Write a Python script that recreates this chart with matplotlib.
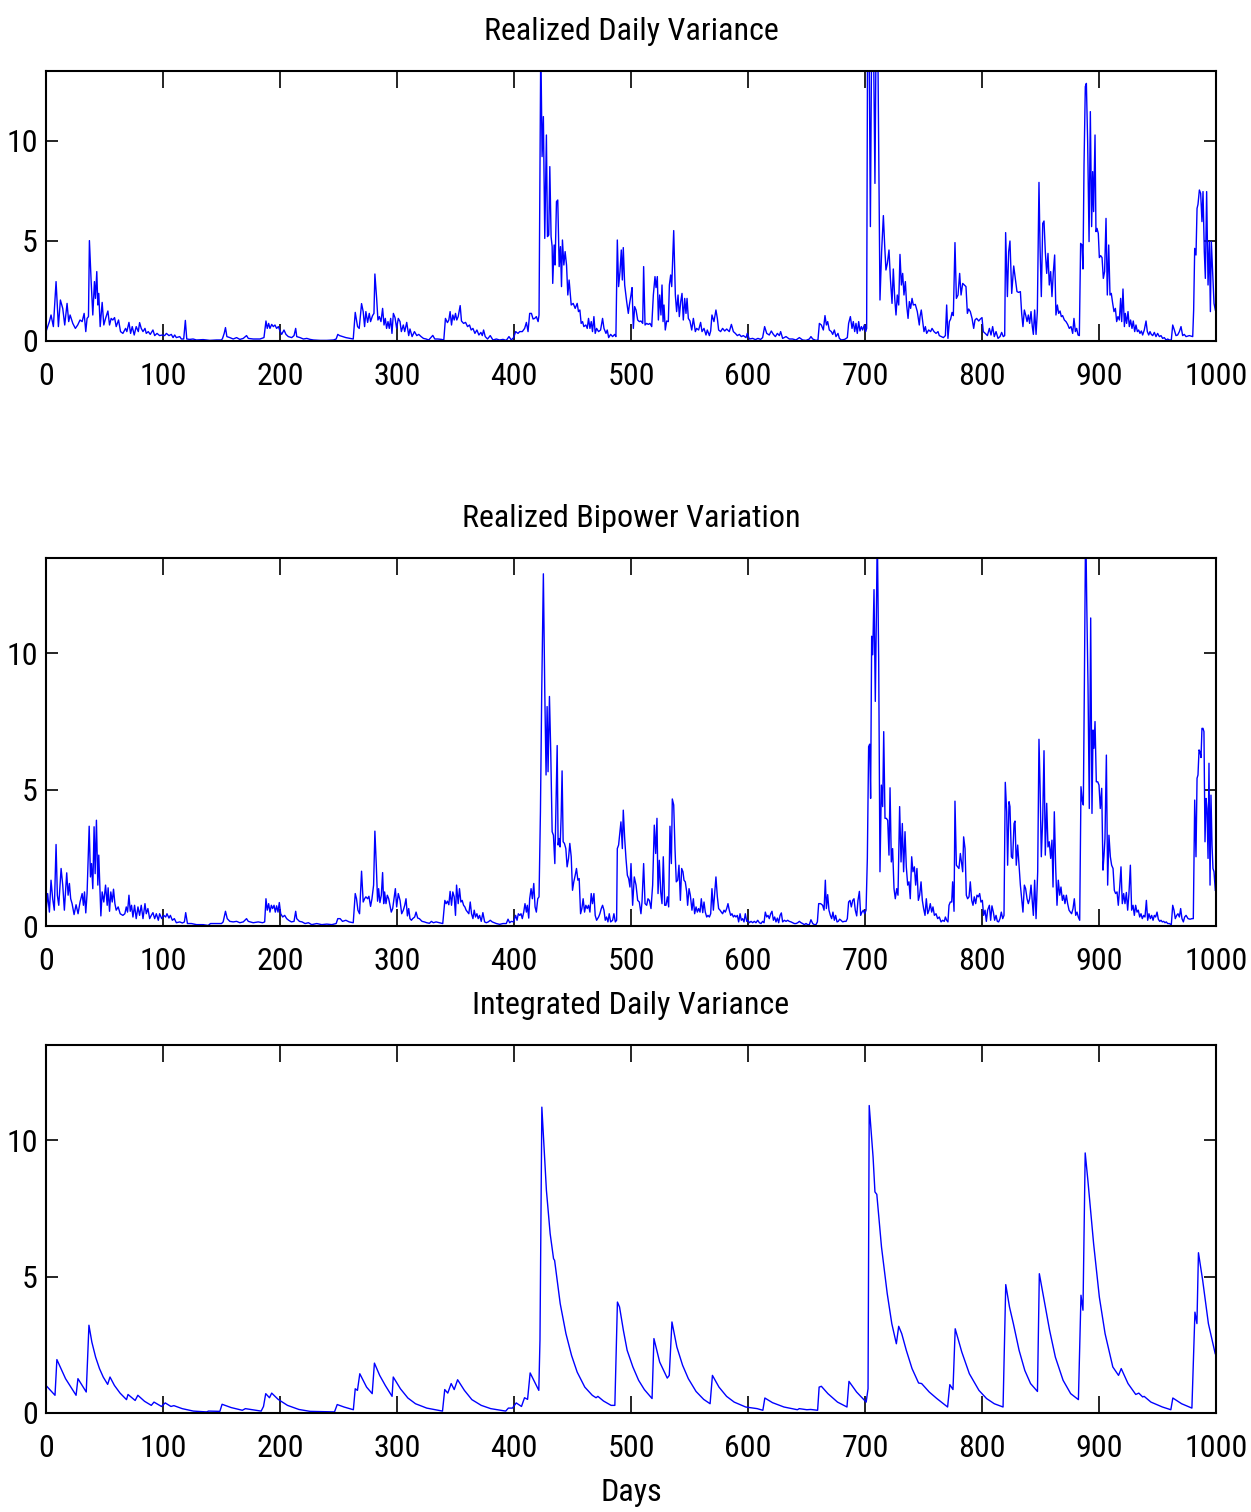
import matplotlib
matplotlib.use("Agg")
import matplotlib.pyplot as plt
from matplotlib import font_manager as fm

# ---------------- data ----------------
titles = ["Realized Daily Variance", "Realized Bipower Variation", "Integrated Daily Variance"]
xlabel_text = "Days"
xticks = [0, 100, 200, 300, 400, 500, 600, 700, 800, 900, 1000]
yticks = [0, 5, 10]

rv_days = [0, 2.9, 4.3, 6.3, 8.6, 10.6, 12.3, 14.3, 16, 18, 19.4, 20.6, 22.9, 25.1, 27.1, 29.1, 30.9, 32.6, 34, 35.1,
           36.3, 37.1, 38.6, 40, 41.4, 42.3, 43.4, 44.3, 45.1, 46.3, 48, 49.4, 50.9, 52.9, 54.3, 55.7, 57.1, 58.6, 60, 62,
           63.7, 65.7, 68, 69.1, 70.9, 72.3, 73.7, 75.4, 77.1, 78.9, 80, 81.4, 82.9, 84.6, 85.7, 87.4, 89.1, 91.4, 92.9, 94.9,
           97.1, 99.4, 101.4, 102.9, 105.1, 107.1, 108.6, 110, 111.4, 114.3, 115.7, 117.7, 119.1, 120.3, 122.9, 125.7, 128.6,
           134.3, 140, 145.7, 150, 150.9, 152.3, 153.4, 154.6, 157.1, 160, 162.9, 165.7, 168.6, 171.4, 172.9, 177.1, 182.9,
           186.3, 188, 189.1, 190.3, 191.4, 192.9, 194.3, 195.7, 197.1, 198.6, 200, 201.4, 203.4, 205.1, 207.1, 210, 212,
           213.4, 214.3, 217.1, 220, 222.9, 225.7, 228.6, 234.3, 240, 245.7, 248, 249.4, 250.9,
           256.3, 262.6, 264.3, 266.3, 267.7, 269.7, 271.1, 272.3, 273.4, 274.9, 276.3, 277.4, 279.1, 280.3, 281.1, 282.6,
           283.7, 284.9, 286.3, 287.7, 288.9, 290, 291.1, 292.3, 293.4, 294.6, 295.7, 296.9, 298.3, 299.7, 301.1, 302.6,
           303.7, 305.4, 306.6, 308.3, 310, 311.1, 312.9, 314.9, 316.9, 318.6, 320.6, 322.6, 324.9, 327.1, 328.9, 330.6,
           332.3, 334.9, 338, 340, 341.4, 343.1, 344.3, 345.4, 346.6, 347.7, 348.9, 350, 351.1, 352.3, 354, 355.1, 356.9,
           358.6, 360.3, 362, 363.4, 364.9, 366.6, 368.3, 370, 371.7, 372.9, 374, 375.4, 377.4, 379.7, 382, 384.9, 387.7,
           390.6, 393.4, 395.7, 397.7, 399.7, 401.4, 403.4, 404.9, 407.1, 409.1, 410.6, 412, 413.4, 414.9, 416.3, 417.7,
           419.1, 420.6, 421.4, 422.9, 424, 425.1, 426.3, 427.7, 428.6, 429.7, 430.6, 431.7, 432.6, 433.1, 434.3, 435.1,
           436.3, 437.4, 438.6, 439.7, 440.6, 441.4, 442.6, 443.7, 444.9, 446, 447.1, 448.9, 450.6, 452.3, 454, 455.1,
           456.3, 457.4, 458.6, 459.7, 461.4, 462.6, 463.7, 464.9, 466, 467.1, 468.3, 469.4, 470.6, 472.3, 474, 475.7,
           476.9, 478.6, 479.7, 480.9, 482.6, 484.3, 486, 487.1, 488.3, 489.4, 490.6, 491.7, 492.6, 493.4, 494.6, 496.3,
           497.7, 498.6, 500, 500.9, 502, 503.1, 504.3, 505.7, 507.1, 508.5, 510, 510.8, 512, 513.4, 514.8, 516.2, 517.7,
           519.1, 520.5, 521.4, 522.5, 523.4, 524.5, 525.6, 526.5, 527.4, 528.2, 529.3, 530.5, 531.9, 532.8, 533.9, 534.8,
           536.5, 537.9, 539, 540.2, 541.3, 542.5, 543.6, 544.7, 545.9, 547, 547.9, 549, 550.4, 551.9, 553.3, 555, 556.1,
           557.8, 559.5, 560.7, 562.4, 564.1, 565.2, 567, 568.1, 569.2, 570.9, 572.6, 573.8, 574.9, 576.6, 578.3, 580.1,
           581.8, 584, 585.8, 587.5, 589.2, 590.9, 592.6, 594.3, 596, 598.3, 599.4, 601.1, 604, 606.3, 608.5, 610.8, 612.5,
           614.2, 616, 618.2, 619.9, 621.7, 623.4, 625.1, 626.8, 627.9, 629.6, 632.5, 635.3, 638.2, 641, 643.9, 646.7,
           649.6, 652.4, 653.8, 655.3, 658.1, 659.8, 661, 662.7, 664.4, 665.8, 667, 668.1, 669.5, 671.2, 672.4, 673.8,
           675.2, 676.9, 678.1, 679.8, 682.6, 684.9, 686, 687.5, 688.9, 690, 691.2, 692.3, 693.4, 694.6, 695.7, 696.9, 698,
           699.4, 700.6, 701.4, 702.3, 703.4, 704.6, 706, 707.1, 708.5, 709.7, 710.8, 712.8, 714.2, 715.7, 716.8, 717.9,
           719.1, 720.5, 721.7, 723.1, 724.2, 725.4, 726.5, 727.6, 728.8, 729.9, 731.1, 732.2, 733.3, 734.5, 735.6, 736.8,
           737.9, 739, 740.2, 741.3, 743, 744.7, 746.4, 747, 748.1, 749.3, 750.4, 751.6, 752.7, 754.4, 756.1, 757.3, 759,
           760.7, 762.4, 763.5, 765.2, 767, 768.7, 769.8, 770.9, 772.1, 773.2, 774.4, 775.5, 776.9, 778.1, 779.5, 780.9,
           782.1, 783.5, 784.9, 786.3, 787.5, 788.6, 790, 791.5, 792.9, 794, 795.4, 797.2, 798.6, 800, 801.1, 802.8, 804.6,
           806.3, 807.7, 809.1, 810.5, 812, 813.7, 815.4, 816.8, 818.2, 819.4, 820.2, 821.7, 822.8, 823.9, 825.4, 827.1,
           828.5, 829.9, 831.3, 832.8, 833.9, 835, 836.2, 837.3, 838.5, 839.6, 840.7, 841.9, 843, 843.9, 845, 846.2, 847.3,
           848.7, 849.6, 850.7, 851.9, 853, 854.1, 855.3, 856.4, 857.5, 858.7, 859.8, 861, 862.1, 863.2, 864.4, 865.5,
           866.7, 867.8, 868.9, 870.4, 871.8, 873.2, 874.6, 876.1, 877.5, 878.6, 879.8, 880.9, 882.1, 883.2, 884.3, 885.5,
           886.3, 887.2, 888.3, 889.2, 890.3, 891.5, 892.6, 893.7, 894.6, 895.4, 896.6, 897.4, 898.3, 899.4, 900.3, 901.4,
           902.6, 903.7, 904.8, 906, 907.1, 908.3, 909.4, 910.5, 911.7, 912.8, 914, 915.1, 916.2, 917.4, 918.5, 919.4,
           920.5, 921.7, 922.5, 923.6, 924.8, 925.9, 927, 928.2, 929.3, 930.5, 931.6, 932.8, 933.9, 935, 936.2, 937.3,
           938.7, 940.2, 941.3, 942.5, 943.6, 944.7, 945.9, 947.3, 948.7, 950.1, 951.6, 953, 954.4, 955.8, 957.3, 958.7,
           960.1, 961.8, 963, 964.4, 965.8, 967.2, 968.7, 970.1, 971.5, 972.9, 974.4, 977.2, 980.1, 980.9, 981.8, 982.9,
           983.8, 984.6, 985.8, 986.9, 988, 988.9, 990, 990.9, 992, 993.2, 994.3, 995.2, 996, 997.2, 998.3, 999.4]
rv_vals = [0.47, 0.97, 1.3, 0.72, 2.97, 0.72, 2.05, 1.63, 0.8, 1.88, 0.97, 1.3, 0.88, 0.63, 0.8, 1.05, 0.97, 1.38, 0.47, 1.13,
           1.22, 5.02, 2.97, 1.3, 2.97, 2.13, 3.47, 1.8, 2.38, 0.72, 1.93, 0.8, 1.13, 1.5, 0.8, 1.13, 1.05, 1.17, 0.72, 1.05,
           0.47, 0.38, 0.63, 0.47, 0.93, 0.38, 0.72, 0.3, 0.72, 0.47, 0.92, 0.63, 0.47, 0.63, 0.38, 0.47, 0.33, 0.55, 0.27, 0.38,
           0.27, 0.3, 0.27, 0.38, 0.27, 0.33, 0.17, 0.3, 0.17, 0.22, 0.1, 0.1, 1.03, 0.1, 0.08, 0.1, 0.05,
           0.07, 0.03, 0.05, 0.05, 0.13, 0.38, 0.67, 0.22, 0.17, 0.1, 0.17, 0.08, 0.13, 0.27, 0.13, 0.1, 0.1,
           0.17, 1.0, 0.63, 0.88, 0.63, 0.83, 0.72, 0.8, 0.63, 0.72, 0.5, 0.33, 0.55, 0.33, 0.22, 0.17, 0.27,
           0.63, 0.22, 0.17, 0.1, 0.13, 0.08, 0.05, 0.03, 0.03, 0.05, 0.1, 0.33, 0.27,
           0.17, 0.1, 1.43, 0.72, 0.63, 1.87, 1.47, 0.72, 1.47, 0.93, 1.38, 0.97, 1.27, 1.38, 3.35, 2.13,
           1.05, 1.22, 0.97, 1.63, 0.8, 1.13, 0.63, 0.97, 0.63, 1.13, 0.38, 1.38, 1.17, 0.63, 1.13, 0.97,
           0.47, 0.8, 0.47, 0.93, 0.27, 0.6, 0.22, 0.47, 0.27, 0.33, 0.22, 0.13, 0.1, 0.05, 0.17, 0.28,
           0.1, 0.1, 0.08, 0.05, 1.13, 0.92, 1.05, 1.47, 0.8, 1.3, 1.05, 1.38, 1.05, 1.22, 1.77, 1.0, 0.88,
           0.93, 0.72, 0.8, 0.55, 0.63, 0.38, 0.55, 0.3, 0.43, 0.27, 0.55, 0.22, 0.1, 0.27, 0.05, 0.1, 0.05,
           0.08, 0.03, 0.22, 0.05, 0.17, 0.47, 0.38, 0.47, 0.47, 0.63, 0.93, 0.47, 1.38, 1.38, 1.1, 1.13,
           1.22, 0.97, 1.3, 15.0, 9.22, 11.22, 5.13, 10.3, 5.22, 5.3, 8.72, 5.22, 4.72, 2.88, 4.8, 3.8,
           6.97, 7.05, 3.72, 4.72, 2.72, 5.05, 3.8, 4.47, 3.8, 2.3, 3.05, 1.8, 1.88, 1.63, 1.88, 1.47,
           1.55, 0.88, 0.97, 0.72, 0.8, 0.63, 1.13, 0.63, 0.97, 0.47, 1.22, 0.38, 0.63, 0.47, 0.55, 1.13,
           0.63, 0.38, 0.55, 0.17, 0.33, 0.22, 0.33, 0.22, 5.05, 2.72, 3.47, 4.55, 3.05, 4.67, 2.8, 1.97,
           1.38, 1.8, 2.3, 2.67, 0.63, 1.72, 1.55, 1.05, 0.97, 1.0, 0.88, 3.72, 0.8, 0.88, 0.83, 0.88, 0.72,
           2.3, 3.22, 2.67, 3.22, 1.05, 2.3, 1.3, 2.8, 0.97, 1.8, 0.55, 1.0, 0.97, 2.8, 3.3, 2.72,
           5.52, 2.3, 1.47, 2.3, 1.22, 1.97, 2.38, 1.05, 2.13, 1.38, 2.13, 1.13, 1.0, 0.55, 1.13, 0.47, 0.63,
           0.55, 0.93, 0.47, 0.63, 0.3, 0.55, 0.27, 0.5, 1.3, 0.97, 1.55, 1.13, 0.55, 0.47, 0.63, 0.5,
           0.6, 0.47, 0.83, 0.47, 0.38, 0.27, 0.33, 0.22, 0.27, 0.17, 0.38, 0.1, 0.13, 0.07, 0.13, 0.08, 0.17,
           0.72, 0.38, 0.3, 0.5, 0.33, 0.22, 0.38, 0.27, 0.47, 0.13, 0.22, 0.1, 0.1, 0.05, 0.17, 0.05,
           0.03, 0.1, 0.22, 0.1, 0.03, 0.05, 0.88, 0.8, 0.55, 1.27, 0.8, 0.97, 0.55, 0.47, 0.33, 0.55,
           0.22, 0.38, 0.13, 0.05, 0.08, 0.17, 0.88, 1.22, 0.63, 0.97, 0.47, 0.88, 0.38, 0.97, 0.5, 0.72, 0.55,
           0.8, 0.47, 0.63, 17.0, 16.0, 5.72, 18.0, 16.0, 7.88, 17.0, 16.0, 2.05, 4.47, 6.27, 4.8, 3.55,
           3.88, 4.55, 3.13, 1.88, 3.6, 2.13, 1.3, 2.3, 1.8, 4.33, 2.8, 3.38, 2.3, 2.97, 1.8, 1.13,
           1.97, 1.63, 2.13, 1.8, 1.83, 1.47, 0.8, 1.22, 1.55, 0.97, 0.47, 0.72, 0.38, 0.55, 0.47, 0.63, 0.47,
           0.38, 0.47, 0.27, 0.22, 0.17, 0.27, 1.8, 0.13, 0.97, 1.1, 1.43, 1.27, 4.92, 2.13, 2.3, 3.38,
           2.3, 2.88, 2.8, 2.72, 1.38, 1.6, 1.47, 1.13, 0.63, 1.05, 1.13, 1.0, 1.1, 1.17, 0.47, 0.38, 0.27,
           0.63, 0.3, 0.72, 0.22, 0.47, 0.13, 0.22, 0.43, 0.22, 0.27, 5.42, 2.22, 4.47, 5.0, 2.38, 3.75,
           3.13, 2.47, 2.43, 2.47, 1.38, 0.72, 1.55, 1.3, 0.97, 1.3, 0.88, 1.47, 0.72, 0.33, 1.55, 0.33, 1.47,
           7.93, 4.72, 2.22, 5.88, 6.0, 4.47, 3.38, 4.38, 2.8, 3.47, 2.22, 3.47, 4.3, 1.3, 1.8, 1.38,
           1.5, 1.22, 1.27, 1.05, 0.97, 0.83, 0.63, 0.72, 0.38, 1.13, 0.47, 0.63, 0.3, 0.27, 4.88, 4.8,
           3.6, 8.8, 12.72, 12.88, 9.97, 4.97, 11.47, 5.72, 8.47, 6.47, 10.3, 5.47, 5.63, 5.38, 4.17, 4.27,
           4.17, 3.13, 3.47, 6.13, 2.3, 4.8, 2.3, 2.38, 1.88, 1.47, 1.63, 0.97, 1.22, 1.05, 2.13, 0.97,
           2.6, 0.72, 1.38, 0.88, 1.47, 0.72, 1.05, 0.63, 1.0, 0.47, 0.8, 0.47, 0.55, 0.38, 0.5, 0.3,
           0.55, 1.0, 0.47, 0.3, 0.47, 0.33, 0.27, 0.43, 0.22, 0.38, 0.22, 0.27, 0.13, 0.17, 0.05, 0.1,
           0.05, 0.05, 0.8, 0.55, 0.27, 0.3, 0.47, 0.72, 0.27, 0.33, 0.22, 0.27, 0.22, 1.55, 4.63, 4.3,
           6.63, 6.83, 7.55, 7.38, 5.97, 7.47, 4.47, 3.13, 7.47, 2.8, 4.97, 1.47, 4.97, 3.3, 1.88, 1.55]

bv_days = [0, 1.4, 2.9, 4.3, 5.7, 7.1, 8.6, 9.7, 10.9, 12.9, 14.3, 15.7, 17.7, 18.9, 20, 21.1, 22.3, 24, 25.7, 27.4,
           29.1, 30.9, 32, 32.9, 34, 35.1, 36.9, 38, 38.9, 40, 41.1, 42, 43.1, 44.3, 45.1, 46.9, 48, 49.4, 50.9, 52.3,
           53.1, 54.3, 55.4, 56.6, 57.7, 58.9, 60, 61.7, 63.4, 65.7, 67.4, 68.6, 69.7, 70.9, 72, 73.1, 74.3, 75.7, 77.1,
           78.6, 80, 81.4, 82.9, 84.6, 85.7, 87.1, 88.6, 90, 91.4, 92.9, 94.3, 96, 97.1, 98.9, 100.6, 102.3, 103.4, 105.1,
           106.3, 108, 109.7, 111.4, 114.3, 116.6, 118.3, 119.4, 120.9, 124.3, 128.6, 134.3, 138.6, 140.6, 145.7, 150,
           151.4, 153.4, 154.9, 157.1, 160, 162.9, 165.7, 168.6, 171.4, 172.9, 177.1, 181.4, 185.1, 186.9, 188, 189.1,
           190.3, 191.4, 192.6, 193.7, 194.9, 196, 197.1, 198.3, 199.4, 200.6, 202.3, 204, 205.7, 207.4, 209.7, 212,
           213.4, 214.3, 216.6, 218.9, 221.4, 224.3, 227.1, 231.4, 235.7, 240, 244.3, 248, 249.4, 251.4,
           253.4, 256.3, 259.1, 262.6, 264.3, 265.4, 266.6, 268, 269.7, 271.1, 272.3, 273.4, 274.9, 276, 277.4, 278.6,
           280, 281.1, 282.3, 283.4, 284.3, 285.4, 286.6, 287.7, 288.6, 289.4, 290.6, 291.7, 292.9, 294, 295.1, 296.3,
           297.4, 298.6, 299.7, 301.1, 302.6, 304, 305.4, 306.6, 307.7, 308.9, 310, 311.1, 312.3, 313.4, 315.1, 316.3,
           317.7, 319.1, 321.4, 323.4, 325.4, 327.7, 329.4, 331.1, 333.4, 336.3, 339.1, 340.9, 342, 343.1, 344.3, 345.4,
           346.6, 347.7, 348.9, 350, 350.9, 352.3, 353.4, 354.6, 355.7, 356.9, 358, 359.1, 360.3, 361.4, 362.6, 363.7,
           364.9, 366, 367.1, 368.3, 369.4, 370.6, 372, 373.4, 374.9, 376.3, 378, 379.7, 381.4, 383.1, 384.9, 387.7,
           390.6, 393.4, 394.9, 396.3, 397.7, 399.7, 401.4, 402.6, 403.7, 404.9, 406, 407.1, 408.3, 409.4, 410.6, 411.4,
           412.6, 413.4, 414.6, 415.7, 416.9, 418, 419.1, 420.3, 421.4, 422.6, 423.7, 425.1, 426.3, 427.4, 428.3, 429.1,
           430.3, 431.4, 432.6, 433.7, 434.9, 435.7, 436.9, 437.7, 438.6, 439.4, 440.3, 441.1, 442, 443.1, 444.3, 445.4,
           446.6, 447.7, 448.9, 450, 451.1, 452.3, 453.4, 454.6, 455.7, 456.9, 458, 459.1, 460.3, 461.4, 462.6, 463.7,
           464.9, 466, 467.1, 468.3, 469.4, 470.6, 472.3, 473.4, 474.6, 475.7, 476.9, 478, 479.1, 480.3, 481.4, 482.6,
           484.3, 485.4, 486.6, 487.7, 488.3, 489.4, 490.6, 491.4, 492.6, 493.4, 494.6, 495.7, 496.9, 498, 499.1,
           500, 501.4, 502.8, 504.3, 505.7, 507.1, 508.5, 509.4, 510.8, 512, 513.4, 514.5, 515.7, 517.1, 518.5, 519.9,
           521.1, 522.2, 523.1, 524.2, 525.4, 526.5, 527.6, 528.8, 529.9, 531.1, 532.2, 533.3, 534.5, 535.3, 536.5,
           537.6, 538.7, 539.9, 541, 542.2, 543.3, 544.4, 545.3, 546.4, 547.6, 548.4, 549.6, 550.7, 552.1, 553.3, 554.4,
           555.6, 556.7, 557.8, 559, 560.1, 561.3, 562.4, 563.5, 564.7, 565.8, 567, 568.1, 569.2, 570.4, 571.5, 572.6,
           573.8, 574.9, 576.1, 577.2, 578.3, 579.5, 580.6, 581.8, 582.9, 584, 585.2, 586.3, 587.5, 588.6, 589.7, 590.9,
           592, 593.2, 594.3, 595.4, 596.6, 597.7, 598.9, 600, 601.1, 602.6, 604, 605.4, 606.8, 608.3, 609.7, 611.1,
           612.5, 613.7, 614.8, 616, 617.1, 618.2, 619.4, 620.5, 621.7, 622.8, 623.9, 625.1, 626.2, 627.4, 628.5, 629.6,
           631.1, 632.5, 633.9, 635.3, 636.8, 638.2, 639.6, 641, 642.5, 643.9, 645.3, 646.7, 648.1, 649.6, 651, 652.4,
           653.8, 655.3, 656.7, 658.1, 659.3, 660.4, 662.1, 663.8, 665, 666.1, 667, 668.1, 669.2, 670.4, 671.5, 672.6,
           673.8, 674.9, 676.1, 677.2, 678.3, 679.5, 680.9, 682.3, 683.8, 684.9, 686, 687.2, 688.3, 689.5, 690.6, 691.7,
           692.9, 694, 695.2, 696.3, 697.4, 698.6, 699.7, 700.9, 702, 703.1, 704, 704.8, 705.7, 706.6, 707.7, 708.8,
           709.7, 710.5, 711.7, 712.8, 714, 715.1, 716, 717.1, 718.2, 719.4, 720.5, 721.4, 722.5, 723.6, 724.8, 725.9,
           727.1, 728.2, 729.6, 730.8, 731.9, 733, 734.2, 735.3, 736.5, 737.6, 738.7, 739.9, 741, 742.2, 743.3, 744.4,
           745.6, 746.7, 747.9, 749, 750.1, 751.3, 752.4, 753.6, 754.7, 755.8, 757, 758.1, 759.3, 760.7, 762.1, 763.5,
           765, 766.4, 767.8, 768.7, 769.8, 770.9, 771.8, 772.9, 774.1, 774.9, 776.1, 776.9, 778.1, 779.2, 780.3, 781.5,
           782.6, 783.5, 784.3, 785.5, 786.6, 787.7, 788.9, 790, 791.2, 792.3, 793.4, 794.6, 795.7, 796.9, 798, 799.1,
           800.3, 801.4, 802.6, 803.7, 804.8, 806.3, 807.4, 808.5, 809.7, 810.8, 812, 813.1, 814.2, 815.4, 816.5, 817.7,
           818.8, 819.9, 821.1, 821.9, 823.1, 823.9, 825.1, 826.2, 827.4, 828.2, 829.3, 830.5, 831.6, 832.8, 833.9, 835,
           836.2, 837.3, 838.5, 839.6, 840.7, 841.9, 843, 843.9, 845, 846.2, 847.6, 848.7, 849.6, 850.7, 851.9, 853,
           854.1, 855.3, 856.4, 857.5, 858.7, 859.8, 860.7, 861.8, 863, 864.1, 865.2, 866.4, 867.5, 868.7, 869.8, 870.9,
           872.1, 873.2, 874.4, 875.5, 876.6, 877.8, 878.9, 880.1, 881.2, 882.3, 883.5, 884.6, 885.8, 886.6, 887.5,
           888.6, 889.5, 890.6, 891.7, 892.9, 894, 894.9, 895.7, 896.6, 897.7, 898.9, 900, 901.1, 902.3, 903.4, 904.3,
           905.1, 906.3, 907.4, 908.5, 909.7, 910.8, 912, 913.1, 914.2, 915.4, 916.5, 917.7, 918.8, 919.9, 921.1, 922.2,
           923.4, 924.5, 925.6, 926.8, 927.9, 929.1, 930.2, 931.3, 932.5, 933.6, 934.8, 935.9, 937, 938.2, 939.3, 940.5,
           941.6, 942.7, 943.9, 945, 946.2, 947.3, 948.4, 949.6, 950.7, 951.9, 953, 954.1, 955.3, 956.4, 957.5, 958.7,
           960.1, 961.8, 963, 964.1, 965.2, 966.4, 967.5, 968.7, 969.8, 970.9, 972.1, 973.2, 974.4, 976.1, 977.8, 979.5,
           980.6, 981.8, 982.9, 983.8, 984.6, 985.5, 986.3, 987.2, 988, 988.9, 989.7, 990.6, 991.5, 992.3, 993.2, 994,
           994.9, 995.7, 996.6, 997.4, 998.3, 999.4]
bv_vals = [0.51, 1.19, 0.51, 1.68, 1.0, 0.58, 2.99, 1.13, 0.76, 2.11, 1.5, 0.58, 1.95, 1.13, 1.56, 1.0, 0.82, 0.42, 0.78, 0.45,
           0.88, 1.19, 0.76, 1.25, 0.48, 1.19, 3.66, 1.8, 2.29, 1.37, 3.64, 1.92, 3.88, 1.5, 2.6, 0.37, 1.25, 0.88, 1.5, 0.76,
           1.4, 0.54, 1.25, 0.88, 1.35, 0.82, 0.58, 0.7, 0.45, 0.39, 0.45, 0.7, 0.51, 1.13, 0.54, 0.76, 0.33, 0.76, 0.27,
           0.7, 0.39, 0.76, 0.27, 0.82, 0.45, 0.64, 0.27, 0.39, 0.49, 0.27, 0.45, 0.21, 0.45, 0.27, 0.39, 0.33, 0.45, 0.29,
           0.39, 0.21, 0.27, 0.12, 0.15, 0.11, 0.15, 0.49, 0.09, 0.09, 0.05, 0.05, 0.02, 0.09, 0.09, 0.09,
           0.15, 0.54, 0.27, 0.17, 0.15, 0.17, 0.12, 0.15, 0.27, 0.17, 0.12, 0.15, 0.12, 0.15, 1.0, 0.58,
           0.82, 0.51, 0.76, 0.64, 0.76, 0.51, 0.74, 0.51, 0.86, 0.45, 0.33, 0.39, 0.27, 0.21, 0.15, 0.17,
           0.54, 0.27, 0.17, 0.15, 0.09, 0.12, 0.05, 0.09, 0.05, 0.07, 0.05, 0.09, 0.27, 0.27,
           0.17, 0.21, 0.15, 0.12, 1.19, 1.0, 0.58, 0.45, 2.01, 0.88, 1.0, 1.07, 1.0, 1.09, 0.72, 1.0,
           1.5, 3.48, 2.23, 0.91, 1.37, 0.86, 1.13, 1.96, 0.82, 1.25, 0.82, 1.13, 1.0, 0.76, 0.51, 0.64,
           1.0, 1.37, 0.7, 1.19, 0.94, 0.45, 0.58, 0.76, 1.0, 0.37, 0.64, 0.27, 0.21, 0.27, 0.33, 0.51,
           0.29, 0.27, 0.17, 0.15, 0.12, 0.1, 0.17, 0.12, 0.15, 0.12, 0.09, 0.94, 0.82, 0.91, 0.78, 1.27,
           0.76, 1.25, 1.07, 0.39, 1.5, 0.82, 1.37, 0.88, 0.94, 0.76, 0.7, 0.58, 0.51, 0.45, 0.88, 0.45,
           0.27, 0.58, 0.33, 0.45, 0.27, 0.39, 0.17, 0.49, 0.15, 0.12, 0.15, 0.21, 0.15, 0.12, 0.09, 0.06,
           0.09, 0.09, 0.25, 0.12, 0.17, 0.15, 0.39, 0.21, 0.45, 0.39, 0.45, 0.27, 0.51, 0.82, 0.51, 0.76,
           0.29, 1.0, 1.37, 1.0, 1.56, 0.7, 0.51, 1.0, 1.07, 4.19, 8.6, 12.92, 8.6, 5.54, 8.05, 5.66,
           8.42, 6.4, 3.46, 3.33, 2.29, 4.07, 6.62, 2.97, 3.21, 2.9, 4.01, 5.69, 3.09, 3.03, 2.84, 2.17,
           2.48, 3.03, 2.54, 1.31, 1.62, 1.86, 2.11, 1.68, 1.74, 0.45, 0.64, 1.0, 0.51, 0.76, 0.64, 0.76,
           0.51, 1.19, 0.82, 1.19, 0.39, 0.21, 0.33, 0.45, 0.64, 0.76, 0.58, 0.21, 0.33, 0.15, 0.45, 0.15,
           0.21, 0.45, 0.15, 0.21, 2.84, 2.97, 3.46, 3.82, 2.84, 4.25, 3.21, 2.48, 1.86, 1.74, 1.43,
           2.29, 0.76, 1.8, 1.5, 0.94, 0.88, 0.45, 0.88, 2.29, 0.82, 0.76, 1.0, 0.94, 0.64, 1.5, 3.7,
           2.66, 3.95, 1.19, 2.41, 1.25, 0.82, 2.54, 0.76, 0.76, 1.07, 0.7, 3.66, 2.29, 4.66, 4.44,
           2.84, 1.62, 1.68, 2.23, 0.94, 2.11, 1.99, 1.68, 1.62, 1.25, 0.76, 1.37, 1.13, 0.58, 1.0, 0.45,
           0.7, 0.51, 0.64, 0.51, 1.0, 0.49, 0.88, 0.51, 0.33, 0.39, 0.33, 0.45, 1.37, 0.58, 1.19, 1.8,
           1.07, 0.64, 0.58, 0.51, 0.45, 0.58, 0.51, 0.64, 0.82, 0.58, 0.39, 0.45, 0.33, 0.39, 0.33, 0.39,
           0.15, 0.45, 0.21, 0.27, 0.15, 0.45, 0.17, 0.21, 0.12, 0.17, 0.12, 0.17, 0.12, 0.21, 0.12, 0.09,
           0.17, 0.12, 0.51, 0.33, 0.39, 0.27, 0.45, 0.54, 0.21, 0.33, 0.15, 0.29, 0.12, 0.39, 0.48, 0.15,
           0.21, 0.17, 0.21, 0.17, 0.15, 0.12, 0.09, 0.09, 0.12, 0.17, 0.12, 0.09, 0.05, 0.09, 0.05, 0.05,
           0.23, 0.09, 0.05, 0.05, 0.15, 0.82, 0.82, 0.76, 0.58, 1.68, 0.64, 1.15, 0.58, 0.39, 0.27, 0.51,
           0.21, 0.39, 0.15, 0.17, 0.25, 0.21, 0.15, 0.17, 0.17, 0.27, 0.88, 0.94, 0.7, 0.94, 1.0, 0.58,
           0.37, 0.94, 1.27, 0.39, 0.51, 0.58, 0.45, 0.58, 2.48, 6.58, 6.67, 4.68, 10.63, 9.95, 12.34, 8.24,
           11.3, 14.5, 9.71, 1.99, 5.17, 4.38, 7.13, 3.95, 3.95, 3.88, 2.6, 5.07, 2.35, 2.84, 1.37, 1.0,
           1.37, 1.13, 4.38, 2.35, 3.76, 1.99, 3.46, 2.17, 1.5, 1.62, 1.0, 2.54, 1.99, 2.17, 1.5, 2.11,
           0.94, 1.13, 1.62, 0.94, 0.64, 0.39, 1.0, 0.45, 0.58, 0.82, 0.51, 0.7, 0.39, 0.45, 0.27, 0.33,
           0.15, 0.21, 0.17, 0.33, 0.21, 0.15, 0.76, 0.88, 0.88, 1.62, 0.54, 4.58, 2.23, 2.17, 2.11, 2.66,
           2.29, 1.99, 3.27, 2.84, 1.13, 1.0, 1.07, 1.62, 0.94, 0.76, 1.07, 0.82, 1.13, 1.07, 1.19, 0.88,
           0.94, 0.39, 0.58, 0.17, 0.58, 0.76, 0.21, 0.74, 0.51, 0.21, 0.39, 0.17, 0.15, 0.27, 0.51, 0.27,
           0.39, 5.27, 4.19, 2.23, 4.56, 4.38, 2.54, 2.48, 3.76, 3.85, 2.23, 2.97, 2.29, 1.5, 1.0, 0.51,
           1.5, 1.37, 1.0, 0.82, 1.0, 1.5, 0.88, 0.39, 1.68, 0.27, 1.99, 6.85, 5.17, 2.54, 3.95, 6.43,
           2.6, 4.5, 2.9, 3.09, 2.48, 3.15, 1.43, 4.19, 2.11, 0.76, 1.68, 1.13, 1.43, 0.94, 1.13, 0.82,
           1.13, 0.82, 0.58, 0.51, 0.45, 0.64, 1.0, 0.39, 0.51, 0.33, 0.21, 5.11, 4.56, 4.44, 8.85,
           15.0, 11.91, 8.85, 4.31, 11.3, 4.13, 7.19, 6.52, 7.5, 5.29, 5.29, 5.17, 4.31, 5.05, 2.05, 2.6,
           3.21, 6.27, 1.5, 3.33, 2.54, 2.23, 2.11, 1.31, 1.19, 1.25, 0.76, 1.43, 2.17, 0.82, 1.19, 0.82,
           1.23, 0.58, 1.19, 2.23, 0.58, 0.76, 0.39, 0.76, 0.51, 0.58, 0.33, 0.45, 0.27, 0.39, 0.33, 0.94,
           0.21, 0.45, 0.27, 0.39, 0.21, 0.39, 0.33, 0.51, 0.25, 0.17, 0.21, 0.15, 0.17, 0.12, 0.15, 0.09,
           0.09, 0.05, 0.76, 0.58, 0.27, 0.39, 0.45, 0.33, 0.64, 0.27, 0.15, 0.33, 0.39, 0.27, 0.25, 0.27,
           0.27, 4.62, 2.54, 5.42, 5.54, 6.46, 6.4, 6.18, 7.25, 7.25, 7.13, 3.09, 4.68, 4.31, 2.48, 5.97,
           1.5, 4.8, 2.97, 2.11, 1.99, 1.31]

iv_days = [0, 7.7, 9.3, 16.7, 25.7, 27.3, 34.4, 36.7, 39.2, 42.4, 45.7, 48.9, 52.7, 54.7, 58.5, 63.3, 68.8, 70.1, 76.2,
           78.5, 84.2, 90, 92.3, 98.7, 101.9, 106.8, 109.3, 116.4, 126, 137.3, 138.9, 148.6, 150.5, 158.2, 167.8, 170.4,
           183.9, 185.9, 187.8, 191, 192.9, 198.4, 206.4, 216.1, 225.7, 246.6, 248.9, 254.7, 262.7, 264.3, 266.2, 268.2,
           274, 278.8, 280.7, 285.2, 290, 295.8, 296.8, 302.9, 309.3, 315.8, 325.4, 338.9, 340.8, 343.4, 346.3, 348.9,
           351.8, 357.6, 364, 372, 380.1, 392.9, 395.2, 398.7, 401.9, 406.4, 409, 411.6, 413.8, 421.2, 422.2, 423.8,
           427.7, 430.9, 433.8, 434.7, 439.5, 444.4, 449.2, 454, 460.5, 466.9, 470.1, 471.7, 476.5, 483, 486.2, 488.4,
           490.2, 493.5, 496.7, 501.6, 506.5, 511.4, 518, 519.6, 524.5, 531, 532.7, 535, 539.2, 544.1, 549, 555.6,
           562.1, 567.6, 569.6, 575.2, 581.7, 588.2, 598, 607.8, 612.7, 614.4, 620.9, 630.7, 642.2, 643.8, 650.3, 653.6,
           659.5, 660.8, 662.7, 668.3, 676.5, 684.6, 686.3, 692.8, 701, 702.6, 703.6, 706.9, 708.5, 710.1, 714.1, 719,
           722.9, 726.8, 728.8, 731.4, 735.3, 740.2, 745.8, 748.4, 754.9, 761.4, 770.6, 772.5, 775.2, 777.1, 782.7,
           789.2, 797.4, 803.9, 810.5, 818, 820.3, 823.5, 826.8, 831.7, 836.6, 841.5, 847.4, 849, 852.9, 857.8, 862.7,
           869.3, 875.8, 882.4, 884.6, 886.3, 888.2, 890.5, 895.4, 900.3, 905.2, 911.8, 916.7, 919, 924.8, 931.4, 934,
           937.3, 938.6, 944.4, 954.2, 961.4, 963.1, 970.6, 979.4, 982, 983.7, 985, 988.6, 993.5, 999.3]
iv_vals = [1.01, 0.65, 1.96, 1.26, 0.65, 1.26, 0.77, 3.22, 2.6, 2.05, 1.63, 1.32, 1.05, 1.32, 1.01, 0.73, 0.49, 0.68, 0.46,
           0.65, 0.43, 0.28, 0.4, 0.24, 0.37, 0.24, 0.27, 0.16, 0.07, 0.04, 0.07, 0.06, 0.32, 0.2, 0.1, 0.16,
           0.07, 0.24, 0.71, 0.56, 0.73, 0.5, 0.28, 0.13, 0.06, 0.04, 0.31, 0.22, 0.12, 0.89, 0.83, 1.44,
           0.95, 0.71, 1.83, 1.38, 1.01, 0.61, 1.32, 0.89, 0.55, 0.34, 0.18, 0.07, 0.86, 0.73, 1.08, 0.86,
           1.22, 0.83, 0.49, 0.28, 0.16, 0.07, 0.18, 0.18, 0.37, 0.24, 0.56, 0.5, 1.47, 0.83, 2.67, 11.22,
           8.17, 6.58, 5.66, 5.6, 4.01, 2.91, 2.11, 1.5, 0.95, 0.65, 0.56, 0.61, 0.44, 0.28, 0.28, 4.07,
           3.89, 3.03, 2.3, 1.69, 1.2, 0.86, 0.53, 2.73, 1.87, 1.28, 1.38, 3.34, 2.42, 1.75, 1.26, 0.79,
           0.5, 0.34, 1.38, 0.95, 0.61, 0.4, 0.22, 0.16, 0.1, 0.55, 0.38, 0.22, 0.12, 0.16, 0.12, 0.13,
           0.1, 0.95, 0.98, 0.71, 0.4, 0.22, 1.16, 0.77, 0.4, 0.89, 11.28, 9.39, 8.11, 8.02, 6.09, 4.38,
           3.28, 2.54, 3.18, 2.91, 2.3, 1.63, 1.1, 1.08, 0.77, 0.53, 0.22, 1.04, 0.86, 3.09, 2.24,
           1.44, 0.83, 0.53, 0.34, 0.22, 4.71, 3.89, 3.28, 2.3, 1.56, 1.08, 0.79, 5.11, 4.19, 3.03, 2.05,
           1.2, 0.71, 0.49, 4.32, 3.77, 9.54, 8.53, 6.21, 4.25, 2.91, 1.69, 1.38, 1.63, 1.08, 0.68, 0.73,
           0.59, 0.61, 0.4, 0.22, 0.12, 0.55, 0.34, 0.18, 3.7, 3.28, 5.88, 4.87, 3.28, 2.18]

series_days = [rv_days, bv_days, iv_days]
series_vals = [rv_vals, bv_vals, iv_vals]

# ---------------- style ----------------
_installed = {f.name for f in fm.fontManager.ttflist}
_wanted = ['Nimbus Sans Narrow', 'Liberation Sans Narrow', 'Arial Narrow', 'Roboto Condensed',
           'Archivo Narrow', 'Fira Sans Condensed', 'DejaVu Sans']
FAMILY = [f for f in _wanted if f in _installed] or ['DejaVu Sans']
if 'DejaVu Sans' not in FAMILY:
    FAMILY.append('DejaVu Sans')
plt.rcParams['font.family'] = FAMILY
FS = 23
LINE_COLOR = '#0000ff'

fig = plt.figure(figsize=(12.51, 15.12), dpi=100)
W, H = 1251.0, 1512.0
boxes = [(71, 341), (558, 926), (1045, 1413)]
left_px, right_px = 46, 1216

for i, (top, bot) in enumerate(boxes):
    ax = fig.add_axes([left_px / W, 1 - bot / H, (right_px - left_px) / W, (bot - top) / H])
    ax.plot(series_days[i], series_vals[i], color=LINE_COLOR, lw=1.0)
    ax.set_xlim(0, 1000)
    ax.set_ylim(0, 13.5)
    ax.set_xticks(xticks)
    ax.set_yticks(yticks)
    ax.set_xticklabels([str(t) for t in xticks])
    ax.set_yticklabels([str(t) for t in yticks])
    for sp in ax.spines.values():
        sp.set_linewidth(1.5)
    ax.tick_params(axis='both', direction='in', top=True, right=True,
                   labelsize=FS, width=1.2)
    ax.tick_params(axis='x', length=12, pad=15)
    ax.tick_params(axis='y', length=8.5, pad=6)
    ax.set_title(titles[i], fontsize=FS, pad=22)
    if i == 2:
        ax.set_xlabel(xlabel_text, fontsize=FS, labelpad=11)

fig.savefig("out.png", dpi=100)
